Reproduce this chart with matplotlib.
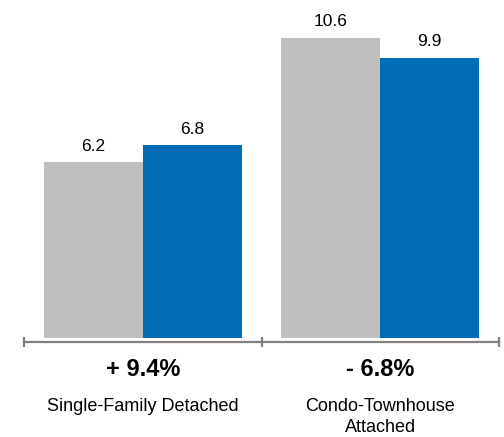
import matplotlib
matplotlib.use("Agg")
import matplotlib.pyplot as plt
import numpy as np

# ---- data ----
categories = ["Single-Family Detached", "Condo-Townhouse\nAttached"]
prior_year = [6.2, 10.6]
current_year = [6.8, 9.9]
pct_change = ["+ 9.4%", "- 6.8%"]

gray = "#BFBFBF"
blue = "#006DB6"

plt.rcParams['font.family'] = ['Liberation Sans', 'DejaVu Sans']

fig = plt.figure(figsize=(5.04, 4.37), dpi=100)
ax = fig.add_axes([24 / 504, 99 / 437, 475 / 504, 337 / 437])

x = np.arange(len(categories))
w = 0.417
b1 = ax.bar(x - w / 2, prior_year, w, color=gray)
b2 = ax.bar(x + w / 2, current_year, w, color=blue)

for bars, vals in ((b1, prior_year), (b2, current_year)):
    for rect, v in zip(bars, vals):
        ax.annotate("%.1f" % v, (rect.get_x() + rect.get_width() / 2, v),
                    xytext=(0, 6), textcoords="offset points",
                    ha="center", va="bottom", fontsize=12.5)

ax.set_xlim(-0.5, 1.5)
ax.set_ylim(0, 11.9)

# bracket style axis
for s in ["top", "left", "right"]:
    ax.spines[s].set_visible(False)
ax.spines["bottom"].set_position(("outward", 3))
ax.spines["bottom"].set_color("#808080")
ax.spines["bottom"].set_linewidth(1.6)
ax.set_yticks([])
ax.set_xticks([-0.5, 0.5, 1.5])
ax.set_xticklabels([])
ax.tick_params(axis="x", length=7, width=1.6, color="#808080", direction="inout")

trans = ax.get_xaxis_transform()
for xi, pc, cat in zip(x, pct_change, categories):
    ax.text(xi, -0.092, pc, transform=trans, ha="center", va="center",
            fontsize=17, fontweight="bold")
    ax.text(xi, -0.177, cat, transform=trans, ha="center", va="top",
            fontsize=13, linespacing=1.3)

fig.savefig("out.png", dpi=100)
